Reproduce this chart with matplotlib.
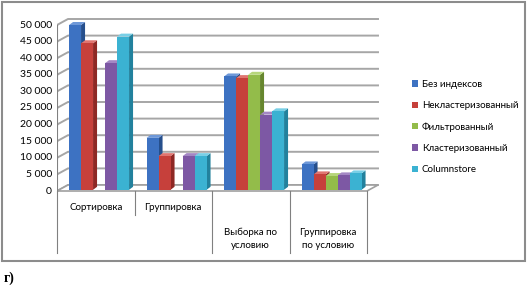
import numpy as np
import matplotlib.pyplot as plt
from matplotlib.patches import Polygon, Rectangle, Patch

# data
categories = ["Сортировка", "Группировка", "Выборка по\nусловию", "Группировка\nпо условию"]
series = ["Без индексов", "Некластеризованный", "Фильтрованный", "Кластеризованный", "Columnstore"]
bez = [50000, 16000, 34500, 8000]
nekl = [44500, 10500, 34000, 5000]
filt = [0, 0, 35000, 4500]
klast = [38500, 10500, 23000, 4700]
colst = [46500, 10500, 24000, 5300]
yticks = np.arange(0, 50001, 5000)

values = [bez, nekl, filt, klast, colst]
colors = ["#3d72c2", "#c6403b", "#93bc4a", "#7d58a4", "#3bb2d2"]
sides = ["#264f8c", "#8e2824", "#66862e", "#553a75", "#22819d"]
tops = ["#6e98d8", "#e07570", "#b6d67a", "#a487c4", "#78cfe6"]

plt.rcParams['font.family'] = ['Lato', 'DejaVu Sans']

W, H = 530, 288
fig = plt.figure(figsize=(W / 100, H / 100), dpi=100)
fig.patch.set_facecolor("white")

# pixel scale of the plot
ux = 77.5            # px per category
uy = 166 / 50000     # px per unit
x0, y0 = 57, 191     # front-left corner of the floor
ax = fig.add_axes([x0 / W, (H - 256) / H, 333 / W, (256 - 15) / H])
ax.set_xlim(0, 333 / ux)
ax.set_ylim(-(256 - y0) / uy, (y0 - 15) / uy)
ax.axis("off")

dx, dy = 11 / ux, 6 / uy       # depth of the box
bdx, bdy = 4 / ux, 3 / uy      # depth of a bar
bw = 12 / ux
n = len(categories)

# floor and wall gridlines
ax.add_patch(Polygon([(0, 0), (n, 0), (n + dx, dy), (dx, dy)], closed=True,
                     facecolor="white", edgecolor="#a0a0a0", lw=1.2, zorder=1))
for v in yticks:
    ax.plot([0, dx, n + dx], [v, v + dy, v + dy], color="#a6a6a6", lw=1.4, zorder=0.5)
    ax.plot([-3 / ux, 0], [v, v], color="#808080", lw=0.8)
    ax.text(-5 / ux, v, f"{v:,}".replace(",", " "), ha="right", va="center", fontsize=7.5)
ax.plot([0, 0], [0, 50000], color="#808080", lw=0.8)

# category dividers and labels
for i in range(n + 1):
    bottom = 215 if i == 1 else 253
    ax.plot([i, i], [0, -(bottom - y0) / uy], color="#808080", lw=0.8, clip_on=False)
for i, c in enumerate(categories):
    ypx = 208 if i < 2 else 239
    ax.text(i + 0.5, -(ypx - y0) / uy, c, ha="center", va="center", fontsize=7, linespacing=1.6)

# bars with fake 3d faces
shift_x, shift_y = 0.3 * dx, 0.2 * dy
for i in range(n):
    start = i + 0.5 - 2.5 * bw + shift_x
    for s in range(len(series)):
        v = values[s][i]
        if v == 0:
            continue
        x = start + s * bw
        b = shift_y
        z = 2 + s * 0.1
        ax.add_patch(Polygon([(x + bw, b), (x + bw + bdx, b + bdy), (x + bw + bdx, v + bdy), (x + bw, v)],
                             closed=True, facecolor=sides[s], edgecolor="none", zorder=z))
        ax.add_patch(Polygon([(x, v), (x + bw, v), (x + bw + bdx, v + bdy), (x + bdx, v + bdy)],
                             closed=True, facecolor=tops[s], edgecolor="none", zorder=z))
        ax.add_patch(Rectangle((x, b), bw, v - b, facecolor=colors[s], edgecolor="none", zorder=z))

# legend
handles = [Patch(facecolor=colors[s], edgecolor="none", label=series[s]) for s in range(len(series))]
fig.legend(handles=handles, loc="upper left", bbox_to_anchor=(412 / W, 1 - 80 / H),
           frameon=False, fontsize=7, handlelength=0.6, handleheight=0.6,
           handletextpad=0.4, labelspacing=1.25, borderpad=0, borderaxespad=0)

# outer border and caption
fig.add_artist(Rectangle((1.5 / W, 1 - 261 / H), 523 / W, 259 / H, transform=fig.transFigure,
                         facecolor="none", edgecolor="#8c8c8c", lw=1.5))
fig.text(4 / W, 1 - 278 / H, "г)", fontsize=10, fontweight="bold", family="Liberation Serif",
         va="center", ha="left")

plt.savefig("out.png", dpi=100)
